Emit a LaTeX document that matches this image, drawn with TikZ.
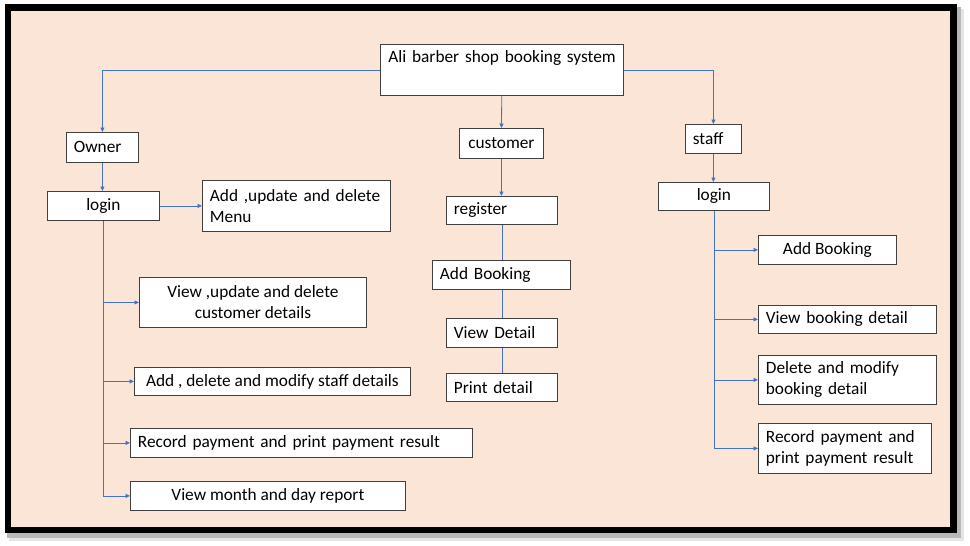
\documentclass[tikz,border=0pt]{standalone}
\usepackage{fontspec}
\setmainfont{Carlito}
\usepackage{tikz}
\usetikzlibrary{arrows.meta,positioning}
\definecolor{cPeach}{HTML}{FBE5D6}
\definecolor{cLink}{HTML}{4472C4}
\definecolor{cEdge}{HTML}{404040}

\begin{document}
\begin{tikzpicture}[
  x=1pt,y=-1pt,
  font=\fontsize{17.3}{21}\selectfont,
  box/.style ={draw=cEdge,fill=white,line width=0.8pt,anchor=north west,
               inner xsep=7.5pt,inner ysep=0pt,align=center},
  boxl/.style={box,align=left},
  ln/.style  ={draw=cLink,line width=0.8pt},
  ar/.style  ={ln,-{Triangle[length=4.5pt,width=4pt]}},
]
% page, shadow and frame
\fill[white] (0,0) rectangle (970,546);
\fill[black!10] (9,9) rectangle (964,541);
\fill[black!28] (7,7) rectangle (961,538);
\fill[black] (5,4) rectangle (957,533);
\fill[cPeach] (11,11) rectangle (950,527);

\node[boxl,minimum width=243,minimum height=51,text width=235,inner xsep=4pt] (title) at (380,44)
  {\hspace*{4pt}Ali barber shop booking system\\ \strut};

% owner branch
\node[boxl,minimum width=72,minimum height=30,text width=57] (owner) at (66,132) {Owner};
\node[box,minimum width=112,minimum height=29] (ologin) at (47,191) {login};
\node[boxl,minimum width=188,minimum height=51,text width=173] (omenu) at (202,180)
  {Add ,update and delete\\ Menu};
\node[box,minimum width=227,minimum height=50] (ocust) at (139,277)
  {View ,update and delete\\ customer details};
\node[box,minimum width=276,minimum height=28,inner xsep=4pt] (ostaff) at (134,367)
  {Add , delete and modify staff details};
\node[boxl,minimum width=342,minimum height=29,text width=327] (opay) at (130,428)
  {Record payment and print payment result};
\node[box,minimum width=275,minimum height=29] (oreport) at (130,481)
  {View month and day report};

% customer branch
\node[box,minimum width=84,minimum height=30] (cust) at (459,128) {customer};
\node[boxl,minimum width=111,minimum height=28,text width=96] (creg) at (446,196) {register};
\node[boxl,minimum width=138,minimum height=29,text width=123] (cbook) at (432,260) {Add Booking};
\node[boxl,minimum width=111,minimum height=29,text width=96] (cview) at (446,318) {View Detail};
\node[boxl,minimum width=111,minimum height=28,text width=96] (cprint) at (446,373) {Print detail};

% staff branch
\node[boxl,minimum width=56,minimum height=29,text width=41] (staff) at (685,124) {staff};
\node[box,minimum width=111,minimum height=28] (slogin) at (658,182) {login};
\node[box,minimum width=138,minimum height=29] (sbook) at (758,235) {Add Booking};
\node[boxl,minimum width=178,minimum height=28,text width=163] (sview) at (758,305)
  {View booking detail};
\node[boxl,minimum width=178,minimum height=49,text width=163] (smod) at (758,355)
  {Delete and modify\\ booking detail};
\node[boxl,minimum width=173,minimum height=50,text width=158] (spay) at (758,423)
  {Record payment and\\ print payment result};

\draw[ar] (title.west) -| (owner.north);
\draw[ar] (title.east) -| (staff.north);
\draw[ar] (title) -- (cust);

\draw[ar] (owner) -- (owner |- ologin.north);
\draw[ar] (ologin) -- (omenu);
\draw[ln] (ologin.south) -- (ologin.south |- oreport.west);
\foreach \n in {ocust,ostaff,opay,oreport}
  \draw[ar] (ologin.south |- \n.west) -- (\n.west);

\draw[ar] (cust) -- (cust |- creg.north);
\draw[ln] (creg) -- (creg |- cbook.north);
\draw[ln] (creg |- cbook.south) -- (cview);
\draw[ln] (cview) -- (cprint);

\draw[ar] (staff) -- (staff |- slogin.north);
\draw[ln] (slogin.south) -- (slogin.south |- spay.west);
\foreach \n in {sbook,sview,smod,spay}
  \draw[ar] (slogin.south |- \n.west) -- (\n.west);
\end{tikzpicture}
\end{document}
